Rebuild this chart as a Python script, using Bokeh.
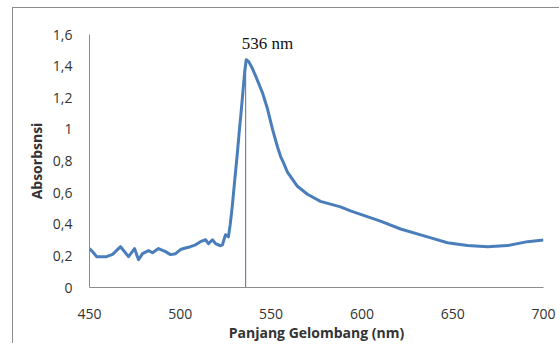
from bokeh.plotting import figure
from bokeh.models import FixedTicker, Range1d, Label, InlineStyleSheet
from bokeh.embed import file_html
from bokeh.resources import INLINE

# wavelength (nm) and absorbance
wavelength = [450, 452.2, 453.9, 459.4, 462.7, 467.1, 471.5, 474.8, 477.0, 479.2,
              482.5, 484.7, 488.0, 491.9, 494.6, 497.4, 500.1, 502.9, 505.6, 508.4,
              511.1, 513.9, 515.5, 517.7, 519.4, 522.1, 523.2, 524.9, 526.5, 527.5,
              528.5, 529.5, 530.5, 531.5, 532.5, 533.5, 534.5, 535.5, 536.3, 537.6,
              539.5, 541.4, 545.3, 548.0, 550.8, 553.5, 555.2, 556.8, 559.0, 564.5,
              570.0, 577.2, 588.2, 593.7, 610.2, 621.3, 636.1, 647.1, 658.1, 669.2,
              680.2, 691.2, 700]
absorbance = [0.246, 0.22, 0.195, 0.195, 0.21, 0.258, 0.195, 0.246, 0.176, 0.214,
              0.233, 0.22, 0.246, 0.227, 0.208, 0.214, 0.24, 0.25, 0.258, 0.27,
              0.29, 0.302, 0.277, 0.302, 0.277, 0.264, 0.27, 0.334, 0.32, 0.40,
              0.50, 0.62, 0.74, 0.86, 0.99, 1.11, 1.24, 1.37, 1.44, 1.43,
              1.39, 1.34, 1.23, 1.13, 1.0, 0.89, 0.83, 0.79, 0.73, 0.64,
              0.59, 0.545, 0.51, 0.485, 0.42, 0.37, 0.32, 0.283, 0.265, 0.258,
              0.265, 0.29, 0.30]

peak_nm = [536]
peak_abs = [1.44]
peak_label = "536 nm"

x_ticks = [450, 500, 550, 600, 650, 700]
x_tick_labels = ["450", "500", "550", "600", "650", "700"]
y_ticks = [0, 0.2, 0.4, 0.6, 0.8, 1.0, 1.2, 1.4, 1.6]
y_tick_labels = ["0", "0,2", "0,4", "0,6", "0,8", "1", "1,2", "1,4", "1,6"]

border_css = InlineStyleSheet(css=""":host {
  margin-left: 12px; margin-top: 7px;
  border-left: 1px solid #8c8c8c; border-top: 1px solid #8c8c8c;
}""")

p = figure(width=547, height=336, output_backend="svg", toolbar_location=None,
           x_range=Range1d(450, 700), y_range=Range1d(0, 1.6),
           min_border_left=76, min_border_right=17, min_border_top=26, min_border_bottom=55,
           stylesheets=[border_css])
p.outline_line_color = None
p.xgrid.grid_line_color = None
p.ygrid.grid_line_color = None

p.segment(x0=peak_nm, y0=[0], x1=peak_nm, y1=peak_abs, line_color="#4f6f91", line_width=1)
p.line(wavelength, absorbance, line_color="#4a7ebb", line_width=3, line_join="round")

p.add_layout(Label(x=peak_nm[0], y=1.54, text=peak_label, x_offset=-4,
                   text_font="Liberation Serif", text_font_size="17px",
                   text_color="#111111", text_baseline="middle"))

for ax in (p.xaxis[0], p.yaxis[0]):
    ax.axis_line_color = "#8c8c8c"
    ax.major_tick_line_color = None
    ax.minor_tick_line_color = None
    ax.major_label_text_font = "Open Sans"
    ax.major_label_text_font_size = "14px"
    ax.major_label_text_color = "#333333"
    ax.axis_label_text_font = "Open Sans"
    ax.axis_label_text_font_size = "14px"
    ax.axis_label_text_font_style = "bold"
    ax.axis_label_text_color = "#333333"

p.xaxis.ticker = FixedTicker(ticks=x_ticks)
p.xaxis.major_label_overrides = dict(zip(x_ticks, x_tick_labels))
p.yaxis.ticker = FixedTicker(ticks=y_ticks)
p.yaxis.major_label_overrides = dict(zip(y_ticks, y_tick_labels))
p.xaxis.major_label_standoff = 15
p.yaxis.major_label_standoff = 11
p.xaxis.axis_label = "Panjang Gelombang (nm)"
p.yaxis.axis_label = "Absorbsnsi"
p.xaxis.axis_label_standoff = 1
p.yaxis.axis_label_standoff = 4

open("out.html", "w").write(file_html(p, INLINE))
